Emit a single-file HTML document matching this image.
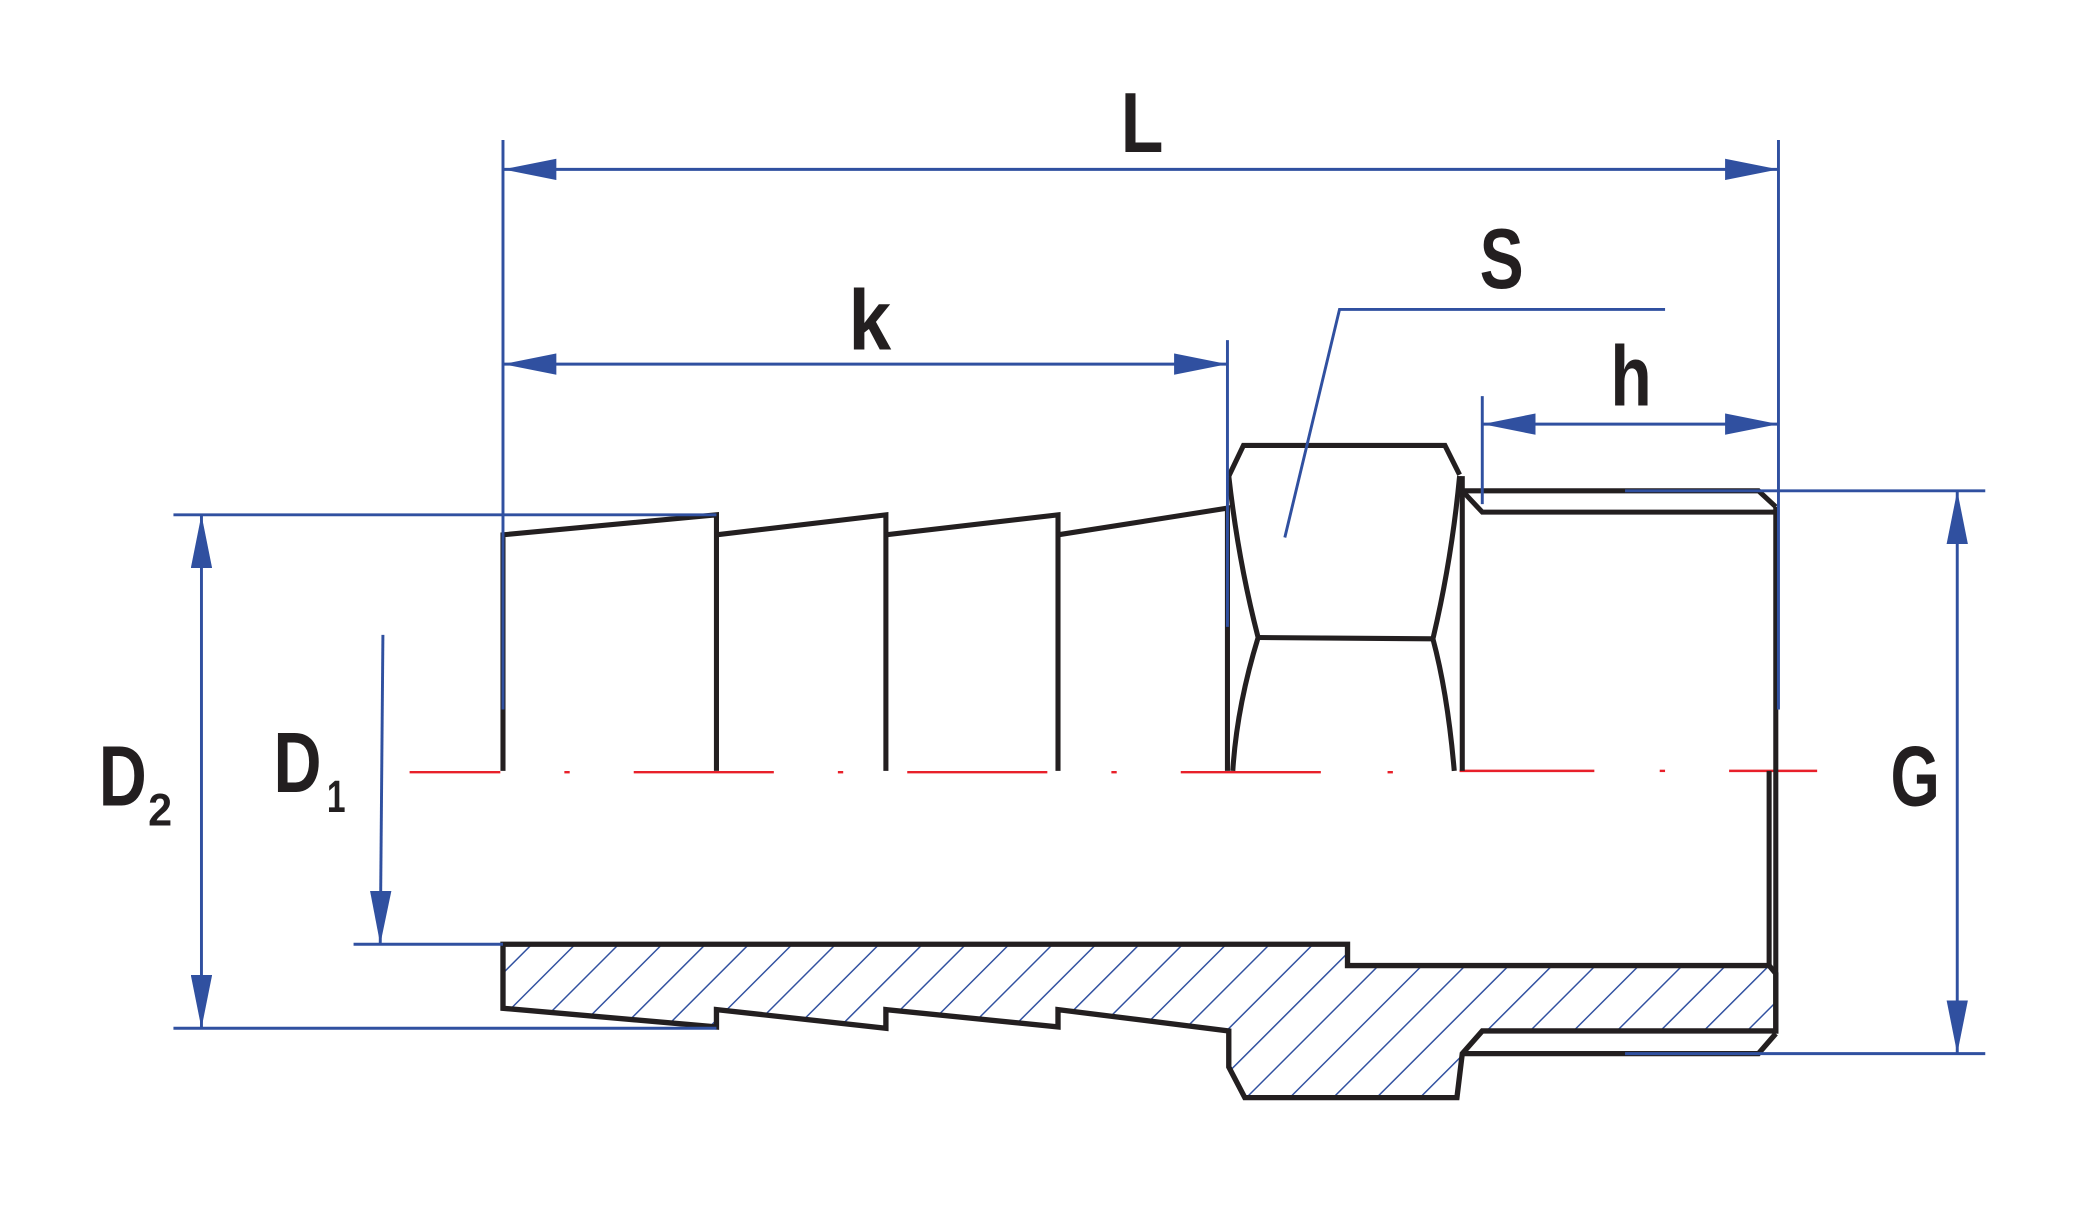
<!DOCTYPE html>
<html><head><meta charset="utf-8"><style>
html,body{margin:0;padding:0;background:#fff;}
svg{display:block;}
text{font-family:"Liberation Sans Narrow","Liberation Sans",sans-serif;font-weight:bold;fill:#231f20;}
</style></head><body>
<svg width="2092" height="1227" viewBox="0 0 1568 920" preserveAspectRatio="none" xmlns="http://www.w3.org/2000/svg">
<defs>
<pattern id="hatch" patternUnits="userSpaceOnUse" width="23" height="23" patternTransform="rotate(45)">
<line x1="0" y1="0" x2="0" y2="23" stroke="#3050a0" stroke-width="2.2"/>
</pattern>
<marker id="ar" viewBox="0 0 40 16" refX="40" refY="8" markerWidth="40" markerHeight="16" markerUnits="userSpaceOnUse" orient="auto-start-reverse">
<path d="M0,0 L40,8 L0,16 Z" fill="#3050a0"/>
</marker>
</defs>

<path d="M377,708 L1010,708 L1010,724 L1326,724 L1331,730 L1331,773 L1111,773 L1096,790 L1092,823 L933,823 L921,800 L921,773 L793,757 L793,770 L664,757 L664,771 L537,757 L537,770 L377,756 Z" fill="url(#hatch)" stroke="#231f20" stroke-width="4" stroke-linejoin="miter"/>
<path d="M1096,790 L1318,790 L1331,775" fill="none" stroke="#231f20" stroke-width="4"/>

<g stroke="#e8202a" stroke-width="1.8">
<line x1="307" y1="579" x2="375" y2="579"/><line x1="423" y1="579" x2="427" y2="579"/>
<line x1="475" y1="579" x2="580" y2="579"/><line x1="628" y1="579" x2="632" y2="579"/>
<line x1="680" y1="579" x2="785" y2="579"/><line x1="833" y1="579" x2="837" y2="579"/>
<line x1="885" y1="579" x2="990" y2="579"/><line x1="1040" y1="579" x2="1044" y2="579"/>
<line x1="1094" y1="578" x2="1195" y2="578"/><line x1="1244" y1="578" x2="1248" y2="578"/>
<line x1="1296" y1="578" x2="1362" y2="578"/>
</g>

<g fill="none" stroke="#231f20" stroke-width="3.8" stroke-linejoin="miter">
<path d="M377,578 L377,401 L537,386 L537,578"/>
<path d="M537,401 L664,386 L664,578"/>
<path d="M664,401 L793,386 L793,578"/>
<path d="M793,401 L920,381 L920,578"/>
<path d="M921,357 L932,334 L1083,334 L1094,356"/>
<path d="M921,357 Q928,420 943,478 Q927,530 924,578"/>
<path d="M943,478 L1074,479"/>
<path d="M1094,357 Q1088,420 1074,479 Q1085,520 1090,578"/>
<path d="M1096,357 L1096,578"/>
<path d="M1096,368 L1318,368 L1331,380"/>
<path d="M1096,368 L1111,384 L1331,384"/>
<path d="M1331,380 L1331,775"/>
<path d="M1326,578 L1326,724"/>
</g>

<g stroke="#3050a0" stroke-width="2.2" fill="none">
<line x1="377" y1="105" x2="377" y2="532"/>
<line x1="1333" y1="105" x2="1333" y2="532"/>
<line x1="377" y1="127" x2="1333" y2="127" marker-start="url(#ar)" marker-end="url(#ar)"/>
<line x1="920" y1="255" x2="920" y2="470"/>
<line x1="377" y1="273" x2="920" y2="273" marker-start="url(#ar)" marker-end="url(#ar)"/>
<path d="M963,403 L1004,232 L1248,232"/>
<line x1="1111" y1="297" x2="1111" y2="378"/>
<line x1="1111" y1="318" x2="1333" y2="318" marker-start="url(#ar)" marker-end="url(#ar)"/>
<line x1="1218" y1="368" x2="1488" y2="368"/>
<line x1="1218" y1="790" x2="1488" y2="790"/>
<line x1="1467" y1="368" x2="1467" y2="790" marker-start="url(#ar)" marker-end="url(#ar)"/>
<line x1="130" y1="386" x2="537" y2="386"/>
<line x1="130" y1="771" x2="537" y2="771"/>
<line x1="151" y1="386" x2="151" y2="771" marker-start="url(#ar)" marker-end="url(#ar)"/>
<line x1="287" y1="476" x2="285" y2="708" marker-end="url(#ar)"/>
<line x1="265" y1="708" x2="377" y2="708"/>
</g>

<text x="840" y="114" font-size="64" textLength="32" lengthAdjust="spacingAndGlyphs">L</text>
<text x="636" y="262" font-size="64" textLength="32" lengthAdjust="spacingAndGlyphs">k</text>
<text x="1109" y="216" font-size="64" textLength="33" lengthAdjust="spacingAndGlyphs">S</text>
<text x="1207" y="304" font-size="64" textLength="31" lengthAdjust="spacingAndGlyphs">h</text>
<text x="1417" y="604" font-size="64" textLength="37" lengthAdjust="spacingAndGlyphs">G</text>
<text x="74" y="604" font-size="64" textLength="36" lengthAdjust="spacingAndGlyphs">D</text>
<text x="111" y="619" font-size="34" textLength="18" lengthAdjust="spacingAndGlyphs">2</text>
<text x="205" y="594" font-size="64" textLength="36" lengthAdjust="spacingAndGlyphs">D</text>
<text x="245" y="609" font-size="34" textLength="14" lengthAdjust="spacingAndGlyphs">1</text>
</svg>
</body></html>
